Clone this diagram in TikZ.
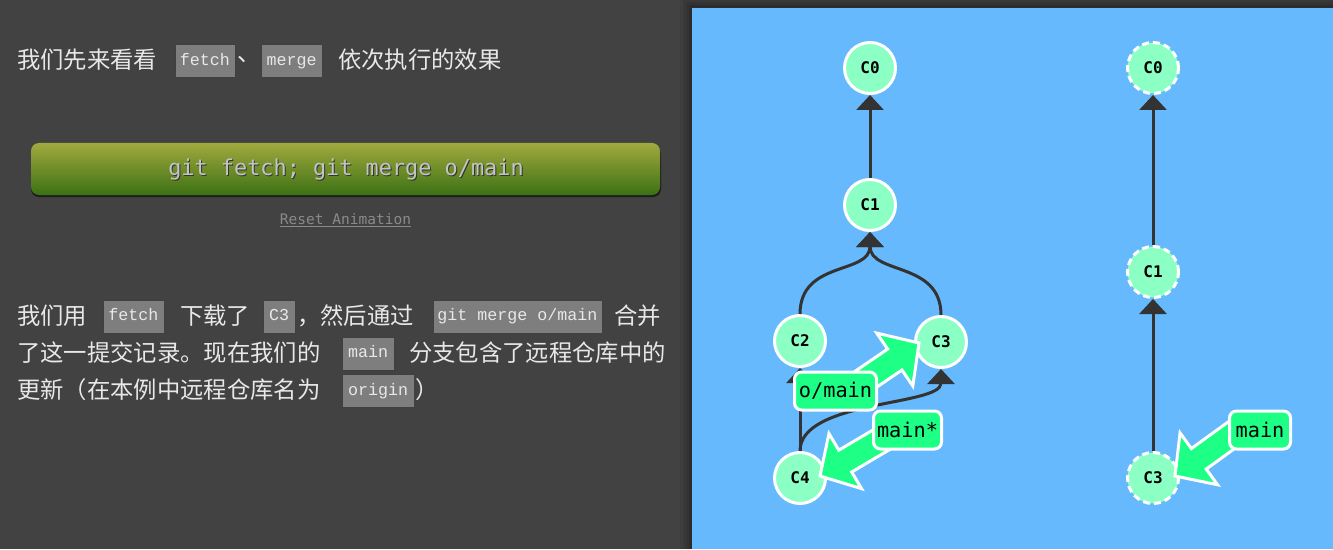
\documentclass[tikz,border=0pt]{standalone}
\usepackage{fontspec}
\setmainfont{Noto Sans CJK SC}
\newfontfamily\cjk{Noto Sans CJK SC}
\newfontfamily\codefont{Liberation Mono}
\newfontfamily\graphfont{DejaVu Sans Mono}
\usetikzlibrary{calc,arrows.meta}
\definecolor{bg}{HTML}{424242}
\definecolor{panel}{HTML}{66B9FC}
\definecolor{commitc}{HTML}{8CFFC4}
\definecolor{lbl}{HTML}{1EFF86}
\definecolor{edgec}{HTML}{333333}
\definecolor{txt}{HTML}{E8E8E8}
\definecolor{codebg}{HTML}{7E7E7E}
\definecolor{btntop}{HTML}{A2A93E}
\definecolor{btnbot}{HTML}{3B7114}
\definecolor{btntxt}{HTML}{C4C4C4}
\definecolor{resetc}{HTML}{8A8A8A}
\newcommand\labarrow[2]{%
  \coordinate (hh) at ($(#2)!22pt!(#1)$);
  \filldraw[labarrowst]
   ($(#1)!9.5pt!90:(#2)$) -- ($(hh)!9.5pt!90:(#2)$) -- ($(hh)!24pt!90:(#2)$) -- (#2) --
   ($(hh)!24pt!-90:(#2)$) -- ($(hh)!9.5pt!-90:(#2)$) -- ($(#1)!9.5pt!-90:(#2)$) -- cycle;}
\begin{document}
\begin{tikzpicture}[x=0.75pt,y=-0.75pt,
  cjktext/.style={anchor=west,inner sep=0pt,text=txt,font=\cjk\fontsize{17.5}{20}\selectfont},
  codebox/.style={fill=codebg,draw=black!75,line width=0.75pt,minimum height=24.75pt,inner sep=0pt,
     text height=8.5pt,text depth=2.5pt,text=txt,font=\codefont\fontsize{12.5}{14}\selectfont},
  commit/.style={circle,draw=white,line width=2.25pt,fill=commitc,minimum size=38.25pt,inner sep=0pt,
     font=\graphfont\bfseries\fontsize{12}{14}\selectfont},
  ghost/.style={commit,dash pattern=on 5.25pt off 3pt},
  edge/.style={draw=edgec,line width=2.25pt,-{Triangle[width=20.25pt,length=11.25pt]}},
  labelbox/.style={rounded corners=5.25pt,draw=white,line width=2.25pt,fill=lbl,minimum height=28.5pt,
     inner sep=0pt,font=\graphfont\fontsize{15.2}{17}\selectfont},
  labarrowst/.style={fill=lbl,draw=white,line width=2.25pt,line join=miter}]
\useasboundingbox (0,0) rectangle (1333,549);
\fill[bg] (0,0) rectangle (1333,549);
% panel with shadow
\foreach \d/\o in {12/0.05,9/0.07,6/0.09,3/0.12}{
  \fill[black,opacity=\o] (692-\d,8-\d) rectangle (1333,549);}
\fill[panel] (692,8) rectangle (1333,549);

% ---- left text ----
\node[cjktext] (t1) at (17,60) {我们先来看看};
\node[codebox,minimum width=45pt] (k1) at (205,61.5) {fetch};
\node[cjktext] (t2) at (237,60) {、};
\node[codebox,minimum width=45.75pt] (k2) at (291.5,61.5) {merge};
\node[cjktext] (t3) at (338,60) {依次执行的效果};

% button
\fill[black,opacity=0.55,rounded corners=6pt] (31,146) rectangle (661,197);
\shade[top color=btntop,bottom color=btnbot,rounded corners=6pt] (31,143) rectangle (660,195);
\node[text=black!80,font=\graphfont\fontsize{16.4}{18}\selectfont] at (347,171) {git fetch; git merge o/main};
\node[text=btntxt,font=\graphfont\fontsize{16.4}{18}\selectfont] (btn) at (346,170) {git fetch; git merge o/main};
\node[text=resetc,font=\graphfont\fontsize{10.9}{12}\selectfont] (reset) at (345.5,220) {\underline{Reset Animation}};

% paragraph
\node[cjktext] (p1) at (17,316) {我们用};
\node[codebox,minimum width=45.75pt] (q1) at (133.5,316.5) {fetch};
\node[cjktext] (p2) at (180,316) {下载了};
\node[codebox,minimum width=24pt] (q2) at (279,316.5) {C3};
\node[cjktext] (p3) at (297,316) {，然后通过};
\node[codebox,minimum width=126.75pt] (q3) at (517.5,316.5) {git merge o/main};
\node[cjktext] (p4) at (614,316) {合并};
\node[cjktext] (p5) at (17,353) {了这一提交记录。现在我们的};
\node[codebox,minimum width=39pt] (q4) at (368,353.5) {main};
\node[cjktext] (p6) at (409,353) {分支包含了远程仓库中的};
\node[cjktext] (p7) at (17,390) {更新（在本例中远程仓库名为};
\node[codebox,minimum width=54pt] (q5) at (378,391) {origin};
\node[cjktext] (p8) at (415,390) {）};

% ---- left graph ----
\node[commit] (c0) at (870,68) {C0};
\node[commit] (c1) at (870,205) {C1};
\node[commit] (c2) at (800,341) {C2};
\node[commit] (c3) at (941,342) {C3};
\node[commit] (c4) at (800,478) {C4};
\draw[edge] (c1) -- (c0);
\draw[edge] (c2.north) .. controls +(0,-54) and +(0,43) .. (c1.south);
\draw[edge] (c3.north) .. controls +(0,-54) and +(0,43) .. (c1.south);
\draw[edge] (c4) -- (c2);
\draw[edge] (c4.north) .. controls +(0,-51) and +(0,37) .. (c3.south);

% ---- right graph ----
\node[ghost] (r0) at (1153,68) {C0};
\node[ghost] (r1) at (1153,272) {C1};
\node[ghost] (r3) at (1153,478) {C3};
\draw[edge] (r1) -- (r0);
\draw[edge] (r3) -- (r1);

% ---- branch labels ----
\coordinate (omfrom) at (856,386);
\coordinate (omtip) at (919,343);
\coordinate (mfrom) at (886,437);
\coordinate (mtip) at (820,476);
\coordinate (rmfrom) at (1240,429);
\coordinate (rmtip) at (1175,476);
\labarrow{omfrom}{omtip}
\labarrow{mfrom}{mtip}
\labarrow{rmfrom}{rmtip}
\node[labelbox,minimum width=61.5pt] (om) at (835.5,391) {o/main};
\node[labelbox,minimum width=51pt] (lm) at (907.5,430) {main*};
\node[labelbox,minimum width=45.75pt] (rm) at (1260,430) {main};
\end{tikzpicture}
\end{document}
